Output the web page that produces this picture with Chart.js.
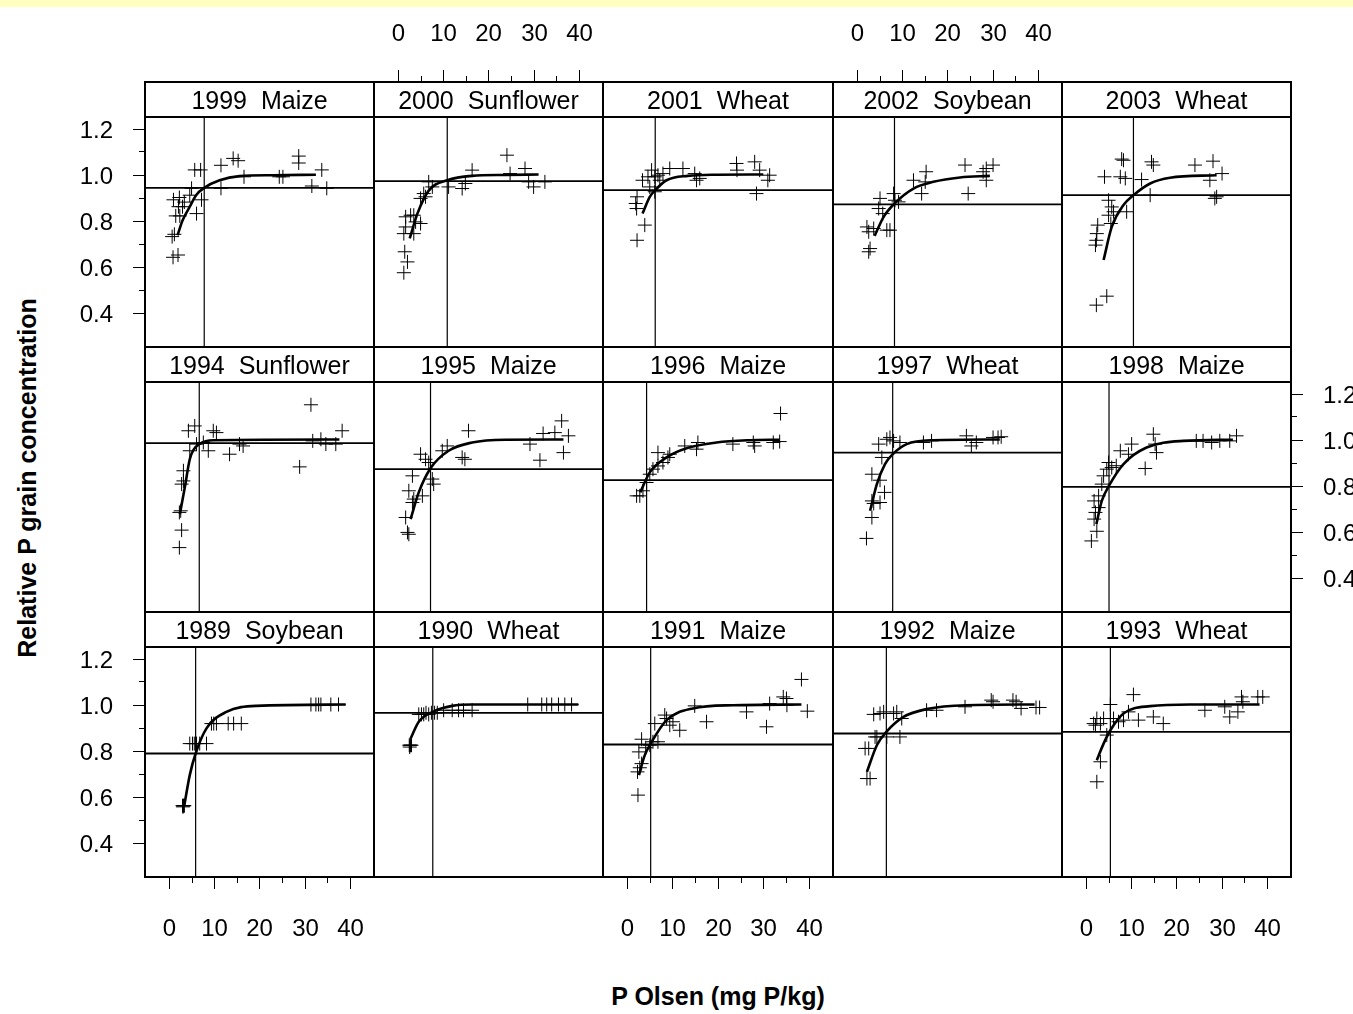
<!DOCTYPE html>
<html lang="en">
<head>
<meta charset="UTF-8">
<title>Relative P grain concentration vs P Olsen</title>
<script src="https://cdn.jsdelivr.net/npm/chart.js@4.4.1/dist/chart.umd.min.js"></script>
<style>
  body { margin: 0; width: 1353px; height: 1014px; position: relative; overflow: hidden; background: #fff;
         font-family: Arial, "Liberation Sans", sans-serif; }
  .band { position: absolute; left: 0; top: 0; width: 100%; height: 7px; background: #ffffc0; }
  canvas.panel { position: absolute; }
  .ytitle { position: absolute; left: 27px; top: 478px; transform: translate(-50%, -50%) rotate(-90deg);
            font-weight: bold; font-size: 25px; white-space: nowrap; }
  .xtitle { position: absolute; left: 718px; top: 996px; transform: translate(-50%, -50%);
            font-weight: bold; font-size: 25px; white-space: nowrap; }
</style>
</head>
<body>
<div class="band"></div>
<div class="ytitle">Relative P grain concentration</div>
<div class="xtitle">P Olsen (mg P/kg)</div>
<script>
// panels, top row first, left to right
const panelYear = ['1999', '2000', '2001', '2002', '2003',
                   '1994', '1995', '1996', '1997', '1998',
                   '1989', '1990', '1991', '1992', '1993'];
const panelCrop = ['Maize', 'Sunflower', 'Wheat', 'Soybean', 'Wheat',
                   'Sunflower', 'Maize', 'Maize', 'Wheat', 'Maize',
                   'Soybean', 'Wheat', 'Maize', 'Maize', 'Wheat'];
// critical P Olsen (vertical line) and critical relative concentration (horizontal line)
const critP   = [7.8, 10.9, 6.2, 8.3, 10.5, 6.7, 7.2, 4.3, 7.9, 5.1, 5.9, 7.7, 5.2, 6.5, 5.4];
const critRel = [0.942, 0.971, 0.932, 0.870, 0.910, 0.984, 0.871, 0.823, 0.943, 0.794, 0.787, 0.964, 0.826, 0.874, 0.881];

const xTicks = [0, 10, 20, 30, 40];
const xMinor = [5, 15, 25, 35];
const yTicks = [0.4, 0.6, 0.8, 1.0, 1.2];
const yMinor = [0.5, 0.7, 0.9, 1.1];
const xLimits = [-5.3, 45.35];
const yLimits = [0.25, 1.25];

// observations [P Olsen, relative P]
const obs1999 = [[0.9,0.64],[2.0,0.65],[0.7,0.73],[1.2,0.74],[1.0,0.89],[2.3,0.90],[3.4,0.88],[2.1,0.86],[3.0,0.86],[1.5,0.82],[2.4,0.82],[5.0,0.94],[4.6,0.91],[6.1,0.83],[7.2,0.89],[5.7,1.02],[7.0,1.02],[11.5,1.04],[14.2,1.07],[15.3,1.06],[16.6,0.99],[11.5,0.94],[24.4,0.99],[25.2,0.99],[28.7,1.08],[28.7,1.05],[33.8,1.02],[31.6,0.95],[34.9,0.94]];
const obs2000 = [[1.3,0.573],[2.1,0.62],[1.5,0.664],[1.3,0.743],[1.7,0.772],[1.7,0.816],[2.8,0.823],[3.5,0.823],[3.9,0.794],[5.0,0.787],[3.5,0.743],[5.0,0.896],[5.7,0.917],[6.1,0.903],[6.8,0.968],[7.6,0.946],[11.2,0.946],[14.2,0.939],[14.9,0.961],[16.4,1.019],[24.1,1.084],[24.8,1.004],[28.1,1.026],[30.0,0.946],[32.5,0.968],[28.9,0.968]];
const obs2001 = [[2.2,0.714],[3.9,0.780],[2.1,0.852],[1.9,0.874],[2.2,0.903],[3.4,0.975],[4.6,0.99],[5.0,0.946],[5.4,1.019],[6.1,0.99],[6.8,0.997],[7.9,1.004],[6.1,0.925],[7.2,0.975],[9.4,1.026],[12.3,1.026],[14.9,1.004],[15.3,0.975],[16.0,0.983],[24.1,1.048],[24.2,1.019],[28.1,1.055],[28.5,0.917],[29.2,1.019],[31.4,0.997],[31.0,0.975]];
const obs2002 = [[2.6,0.664],[2.9,0.678],[2.2,0.772],[2.6,0.751],[3.7,0.765],[5.1,0.896],[4.8,0.852],[5.7,0.830],[6.6,0.758],[7.3,0.758],[8.1,0.917],[8.4,0.888],[9.2,0.881],[12.5,0.975],[15.3,1.012],[15.1,0.968],[14.3,0.917],[23.9,1.041],[24.6,0.917],[27.9,1.012],[28.6,0.975],[30.1,1.041],[28.6,1.026]];
const obs2003 = [[2.3,0.432],[4.6,0.471],[2.1,0.693],[2.3,0.714],[2.4,0.743],[2.6,0.780],[5.0,0.888],[5.7,0.859],[6.1,0.838],[5.0,0.823],[5.5,0.787],[9.0,0.838],[4.1,0.99],[7.9,1.067],[8.3,1.062],[7.6,0.99],[8.7,0.983],[12.3,0.978],[14.5,1.055],[14.9,1.041],[14.2,0.910],[24.1,1.041],[28.1,1.058],[27.4,0.975],[30.1,1.004],[28.9,0.903],[28.5,0.896]];
const obs1994 = [[2.3,0.530],[2.8,0.606],[2.3,0.683],[2.6,0.690],[2.8,0.806],[3.2,0.820],[3.2,0.864],[4.6,0.951],[4.3,1.038],[5.7,1.059],[6.1,0.980],[7.6,0.987],[8.7,0.951],[9.8,1.038],[10.5,1.030],[13.4,0.936],[15.6,0.980],[16.4,0.972],[28.9,0.881],[31.4,1.151],[31.8,0.994],[33.6,1.001],[34.7,0.980],[36.9,0.980],[38.3,1.038]];
const obs1995 = [[2.1,0.596],[2.4,0.588],[1.7,0.661],[3.2,0.726],[2.4,0.777],[3.5,0.741],[5.4,0.755],[3.2,0.842],[5.0,0.936],[6.1,0.914],[6.8,0.900],[7.6,0.828],[7.9,0.806],[9.8,0.951],[10.9,0.972],[14.2,0.922],[14.8,0.914],[15.6,1.038],[29.2,0.980],[31.4,0.910],[32.1,1.026],[34.7,1.030],[36.2,1.081],[37.7,1.016],[36.6,0.943]];
const obs1996 = [[2.1,0.755],[2.8,0.755],[3.5,0.777],[4.3,0.813],[5.0,0.849],[5.7,0.871],[6.8,0.885],[7.9,0.900],[6.8,0.943],[9.4,0.936],[9.0,0.922],[12.7,0.972],[15.3,0.958],[15.6,0.987],[23.3,0.980],[27.8,0.987],[28.1,0.972],[32.2,0.987],[33.6,0.991],[33.8,1.113]];
const obs1997 = [[2.1,0.570],[3.3,0.661],[3.3,0.733],[3.7,0.722],[5.1,0.726],[6.1,0.770],[3.3,0.849],[5.1,0.823],[5.5,0.922],[4.8,0.980],[6.6,1.001],[7.3,1.009],[8.1,0.994],[9.5,0.987],[14.7,0.987],[16.5,0.994],[24.2,1.016],[25.3,0.972],[26.4,0.987],[30.1,1.009],[31.2,1.009],[31.9,1.012]];
const obs1998 = [[1.2,0.559],[2.4,0.601],[1.8,0.654],[2.1,0.683],[1.8,0.733],[2.8,0.704],[2.8,0.755],[3.5,0.806],[3.9,0.842],[4.6,0.871],[5.0,0.900],[5.7,0.878],[6.7,0.886],[7.6,0.951],[10.1,0.980],[9.4,0.936],[13.1,0.874],[14.9,1.023],[15.6,0.943],[15.3,0.980],[24.4,0.994],[25.9,0.994],[27.8,0.987],[29.6,0.994],[31.8,0.994],[33.3,1.016]];
const obs1989 = [[3.0,0.56],[3.2,0.56],[3.3,0.56],[3.4,0.56],[3.1,0.555],[4.6,0.83],[5.2,0.83],[5.6,0.83],[6.1,0.83],[6.8,0.83],[8.3,0.83],[9.4,0.917],[9.9,0.917],[10.5,0.917],[13.1,0.917],[14.3,0.917],[16.0,0.917],[31.4,1.0],[32.5,1.0],[33.1,1.0],[33.6,1.0],[35.8,1.0],[37.5,1.0]];
const obs1990 = [[2.5,0.823],[2.7,0.823],[2.8,0.823],[3.0,0.823],[2.6,0.815],[4.6,0.957],[5.2,0.957],[5.7,0.957],[6.2,0.964],[6.8,0.957],[7.4,0.964],[8.1,0.964],[8.7,0.964],[10.1,0.975],[12.0,0.975],[13.4,0.975],[14.5,0.975],[16.4,0.975],[28.7,1.0],[31.8,1.0],[32.9,1.0],[34.0,1.0],[35.5,1.0],[36.9,1.0],[38.4,1.0]];
const obs1991 = [[2.4,0.606],[2.3,0.707],[2.8,0.725],[3.2,0.743],[2.6,0.794],[3.2,0.849],[4.1,0.812],[5.0,0.823],[5.7,0.838],[6.1,0.917],[6.8,0.838],[8.3,0.954],[8.7,0.939],[9.4,0.910],[10.1,0.925],[11.6,0.888],[14.9,0.994],[17.5,0.925],[26.3,0.968],[30.7,0.903],[31.4,1.004],[34.4,1.033],[35.1,1.026],[35.2,0.997],[38.4,1.109],[39.7,0.971]];
const obs1992 = [[2.2,0.678],[2.9,0.678],[1.8,0.809],[2.6,0.809],[4.0,0.859],[4.4,0.859],[3.7,0.957],[5.1,0.961],[5.9,0.968],[8.1,0.961],[8.8,0.968],[6.6,0.859],[9.5,0.859],[9.9,0.939],[15.4,0.975],[17.6,0.975],[23.9,0.990],[29.7,1.019],[30.1,1.012],[34.5,1.019],[35.2,1.012],[36.3,0.983],[39.6,0.987],[40.4,0.987]];
const obs1993 = [[2.4,0.664],[3.2,0.751],[1.7,0.917],[2.1,0.910],[2.4,0.939],[3.2,0.917],[3.9,0.939],[4.6,0.867],[5.4,1.0],[6.1,0.939],[7.2,0.925],[8.3,0.932],[9.4,0.968],[10.5,1.043],[11.6,0.932],[14.9,0.946],[17.1,0.917],[26.3,0.975],[30.7,0.990],[31.8,0.946],[33.6,0.968],[34.4,1.033],[34.7,1.012],[38.0,1.033],[39.1,1.033]];

// fitted response curves
const fit1999 = [[1.9,0.736],[3.0,0.80],[4.6,0.86],[6.0,0.91],[7.8,0.942],[11.2,0.975],[15.6,0.993],[23.0,0.997],[32.5,0.999]];
const fit2000 = [[2.6,0.722],[4.3,0.83],[6.8,0.93],[10.9,0.975],[16.4,0.994],[23.7,0.998],[31.1,1.0]];
const fit2001 = [[3.4,0.83],[5.0,0.903],[6.2,0.932],[8.7,0.975],[13.4,0.994],[19.7,0.999],[30.0,1.0]];
const fit2002 = [[3.9,0.733],[5.9,0.816],[8.3,0.874],[12.5,0.939],[16.9,0.968],[22.8,0.987],[29.4,0.994]];
const fit2003 = [[3.9,0.628],[5.7,0.772],[8.3,0.867],[10.5,0.910],[14.2,0.961],[18.6,0.986],[28.9,0.997]];
const fit1994 = [[2.4,0.675],[3.5,0.791],[4.6,0.914],[5.4,0.954],[6.7,0.980],[9.8,0.997],[37.7,1.0]];
const fit1995 = [[2.8,0.654],[4.6,0.770],[7.2,0.875],[11.2,0.951],[16.4,0.987],[23.7,0.999],[36.6,1.0]];
const fit1996 = [[2.9,0.770],[5.0,0.857],[8.7,0.922],[13.1,0.962],[19.7,0.987],[27.0,0.997],[33.6,0.999]];
const fit1997 = [[2.9,0.690],[4.4,0.806],[6.2,0.893],[7.9,0.936],[11.0,0.980],[16.9,0.997],[31.6,1.0]];
const fit1998 = [[2.3,0.632],[3.5,0.733],[5.1,0.799],[8.3,0.893],[13.4,0.965],[21.5,0.994],[32.5,0.999]];
const fit1989 = [[3.4,0.562],[4.6,0.693],[5.9,0.787],[8.3,0.896],[12.7,0.968],[19.3,0.994],[39.1,1.0]];
const fit1990 = [[2.8,0.852],[4.6,0.925],[7.7,0.968],[12.0,0.994],[16.4,1.0],[39.9,1.0]];
const fit1991 = [[2.6,0.693],[3.9,0.780],[5.2,0.830],[8.7,0.932],[14.5,0.983],[23.3,0.997],[38.4,1.0]];
const fit1992 = [[2.2,0.707],[4.4,0.823],[6.5,0.881],[10.3,0.946],[15.4,0.980],[24.2,0.997],[39.3,1.0]];
const fit1993 = [[2.4,0.758],[3.9,0.830],[5.4,0.888],[8.3,0.961],[14.2,0.993],[23.0,1.0],[38.4,1.0]];

const panelObs = [obs1999, obs2000, obs2001, obs2002, obs2003,
                  obs1994, obs1995, obs1996, obs1997, obs1998,
                  obs1989, obs1990, obs1991, obs1992, obs1993];
const panelFit = [fit1999, fit2000, fit2001, fit2002, fit2003,
                  fit1994, fit1995, fit1996, fit1997, fit1998,
                  fit1989, fit1990, fit1991, fit1992, fit1993];

// page layout
const colEdges = [145, 374, 603, 833, 1062, 1291];
const rowTops = [82, 347, 612];
const STRIP = 35, PANEL_H = 230, MARGIN = 100;
const TICK_FONT = '24px Arial, "Liberation Sans", sans-serif';
const STRIP_FONT = '25px Arial, "Liberation Sans", sans-serif';

const crisp = p => Math.round(p) + 0.5;

function seg(ctx, x1, y1, x2, y2) {
  ctx.beginPath();
  ctx.moveTo(x1, y1);
  ctx.lineTo(x2, y2);
  ctx.stroke();
}

// strip, frame and the alternating outer axes of a lattice panel
const latticeFrame = {
  id: 'latticeFrame',
  afterDraw(chart, args, opts) {
    const { ctx, chartArea: a, scales: { x, y } } = chart;
    const w = a.right - a.left;
    ctx.save();
    ctx.fillStyle = '#fff';
    ctx.fillRect(a.left, a.top - STRIP, w, STRIP);
    ctx.strokeStyle = '#000';
    ctx.lineWidth = 2;
    ctx.strokeRect(a.left, a.top - STRIP, w, STRIP);
    ctx.strokeRect(a.left, a.top, w, a.bottom - a.top);

    ctx.fillStyle = '#000';
    ctx.font = STRIP_FONT;
    ctx.textAlign = 'center';
    ctx.textBaseline = 'middle';
    ctx.fillText(opts.label, a.left + w / 2, a.top - STRIP / 2 + 3);

    ctx.lineWidth = 1;
    ctx.font = TICK_FONT;
    if (opts.bottom || opts.top) {
      const base = opts.bottom ? a.bottom : a.top - STRIP;
      const dir = opts.bottom ? 1 : -1;
      xMinor.forEach(v => { const p = crisp(x.getPixelForValue(v)); seg(ctx, p, base, p, base + dir * 6); });
      xTicks.forEach(v => {
        const p = crisp(x.getPixelForValue(v));
        seg(ctx, p, base, p, base + dir * 12);
        ctx.fillText(String(v), p, base + dir * 50 + 2);
      });
    }
    if (opts.left || opts.right) {
      const base = opts.left ? a.left : a.right;
      const dir = opts.left ? -1 : 1;
      ctx.textAlign = opts.left ? 'right' : 'left';
      yMinor.forEach(v => { const p = crisp(y.getPixelForValue(v)); seg(ctx, base, p, base + dir * 6, p); });
      yTicks.forEach(v => {
        const p = crisp(y.getPixelForValue(v));
        seg(ctx, base, p, base + dir * 12, p);
        ctx.fillText(v.toFixed(1), base + dir * 32, p + 2);
      });
    }
    ctx.restore();
  }
};

const toXY = arr => arr.map(([px, py]) => ({ x: px, y: py }));

panelYear.forEach((year, i) => {
  const row = Math.floor(i / 5), col = i % 5;
  const left = colEdges[col], right = colEdges[col + 1];
  const top = rowTops[row] + STRIP;

  const canvas = document.createElement('canvas');
  canvas.className = 'panel';
  canvas.width = right - left + 2 * MARGIN;
  canvas.height = PANEL_H + 2 * MARGIN;
  canvas.style.left = (left - MARGIN) + 'px';
  canvas.style.top = (top - MARGIN) + 'px';
  document.body.appendChild(canvas);

  new Chart(canvas, {
    type: 'scatter',
    data: {
      datasets: [
        {
          data: toXY(panelObs[i]),
          pointStyle: 'cross', pointRadius: 7, pointBorderWidth: 1,
          borderColor: '#000', backgroundColor: 'transparent'
        },
        {
          type: 'line', data: toXY(panelFit[i]),
          borderColor: '#000', borderWidth: 2.6, pointRadius: 0,
          cubicInterpolationMode: 'monotone', fill: false
        },
        {
          type: 'line', data: [{ x: xLimits[0], y: critRel[i] }, { x: xLimits[1], y: critRel[i] }],
          borderColor: '#000', borderWidth: 1.8, pointRadius: 0, fill: false
        },
        {
          type: 'line', data: [{ x: critP[i], y: yLimits[0] }, { x: critP[i], y: yLimits[1] }],
          borderColor: '#000', borderWidth: 1.2, pointRadius: 0, fill: false
        }
      ]
    },
    options: {
      responsive: false,
      animation: false,
      events: [],
      layout: { padding: MARGIN },
      scales: {
        x: { type: 'linear', min: xLimits[0], max: xLimits[1], display: false },
        y: { type: 'linear', min: yLimits[0], max: yLimits[1], display: false }
      },
      plugins: {
        legend: { display: false },
        tooltip: { enabled: false },
        latticeFrame: {
          label: year + '  ' + panelCrop[i],
          left: col === 0 && row !== 1,
          right: col === 4 && row === 1,
          top: row === 0 && (col === 1 || col === 3),
          bottom: row === 2 && col % 2 === 0
        }
      }
    },
    plugins: [latticeFrame]
  });
});
</script>
</body>
</html>
